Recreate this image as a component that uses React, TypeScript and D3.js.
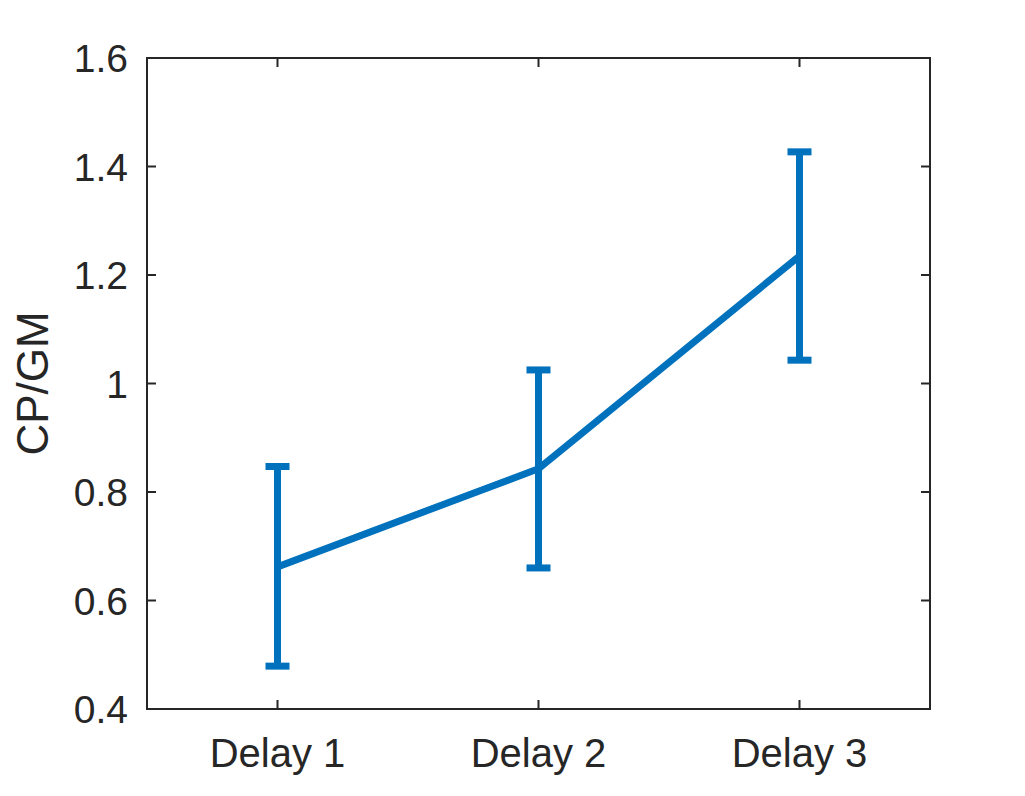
import React, { useEffect, useRef } from 'react';
import * as d3 from 'd3';

const categories = ['Delay 1', 'Delay 2', 'Delay 3'];
const means = [0.662, 0.843, 1.235];
const lower = [0.479, 0.66, 1.043];
const upper = [0.847, 1.025, 1.427];
const yTicks = [0.4, 0.6, 0.8, 1, 1.2, 1.4, 1.6];

const App = () => {
  const svgRef = useRef<SVGSVGElement>(null);

  useEffect(() => {
    const svg = d3.select(svgRef.current);
    svg.selectAll('*').remove();

    const margin = { top: 58, right: 95, bottom: 87, left: 147 };
    const width = 1025 - margin.left - margin.right;
    const height = 796 - margin.top - margin.bottom;
    const ink = '#262626';
    const blue = '#0072BD';
    const font = '"Liberation Sans", Arial, sans-serif';

    const x = d3.scaleLinear().domain([0.5, 3.5]).range([margin.left, margin.left + width]);
    const y = d3.scaleLinear().domain([0.4, 1.6]).range([margin.top + height, margin.top]);

    // box
    svg
      .append('rect')
      .attr('x', margin.left)
      .attr('y', margin.top)
      .attr('width', width)
      .attr('height', height)
      .attr('fill', 'none')
      .attr('stroke', ink)
      .attr('stroke-width', 2);

    // y ticks inward, left and right
    yTicks.forEach((t) => {
      [margin.left, margin.left + width].forEach((xx, i) => {
        svg
          .append('line')
          .attr('x1', xx)
          .attr('x2', i === 0 ? xx + 9 : xx - 9)
          .attr('y1', y(t))
          .attr('y2', y(t))
          .attr('stroke', ink)
          .attr('stroke-width', 2);
      });
      svg
        .append('text')
        .attr('x', margin.left - 19)
        .attr('y', y(t))
        .attr('dy', '0.36em')
        .attr('text-anchor', 'end')
        .attr('font-family', font)
        .attr('font-size', 39)
        .attr('fill', ink)
        .text(String(t));
    });

    // x ticks inward, bottom and top
    categories.forEach((c, i) => {
      const xx = x(i + 1);
      [margin.top + height, margin.top].forEach((yy, j) => {
        svg
          .append('line')
          .attr('x1', xx)
          .attr('x2', xx)
          .attr('y1', yy)
          .attr('y2', j === 0 ? yy - 9 : yy + 9)
          .attr('stroke', ink)
          .attr('stroke-width', 2);
      });
      svg
        .append('text')
        .attr('x', xx)
        .attr('y', margin.top + height + 58)
        .attr('text-anchor', 'middle')
        .attr('font-family', font)
        .attr('font-size', 40)
        .attr('fill', ink)
        .text(c);
    });

    // y label
    svg
      .append('text')
      .attr('transform', `translate(${48},${margin.top + height / 2}) rotate(-90)`)
      .attr('text-anchor', 'middle')
      .attr('font-family', font)
      .attr('font-size', 44)
      .attr('fill', ink)
      .text('CP/GM');

    // error bars
    const capW = 12;
    means.forEach((m, i) => {
      const xx = x(i + 1);
      svg
        .append('line')
        .attr('x1', xx)
        .attr('x2', xx)
        .attr('y1', y(lower[i]))
        .attr('y2', y(upper[i]))
        .attr('stroke', blue)
        .attr('stroke-width', 7);
      [lower[i], upper[i]].forEach((v) => {
        svg
          .append('line')
          .attr('x1', xx - capW)
          .attr('x2', xx + capW)
          .attr('y1', y(v))
          .attr('y2', y(v))
          .attr('stroke', blue)
          .attr('stroke-width', 7);
      });
    });

    const line = d3
      .line<number>()
      .x((_, i) => x(i + 1))
      .y((d) => y(d));

    svg
      .append('path')
      .datum(means)
      .attr('d', line)
      .attr('fill', 'none')
      .attr('stroke', blue)
      .attr('stroke-width', 7);
  }, []);

  return (
    <svg
      ref={svgRef}
      width={1025}
      height={796}
      style={{ position: 'absolute', left: 0, top: 0, background: '#fff' }}
    />
  );
};

export default App;
